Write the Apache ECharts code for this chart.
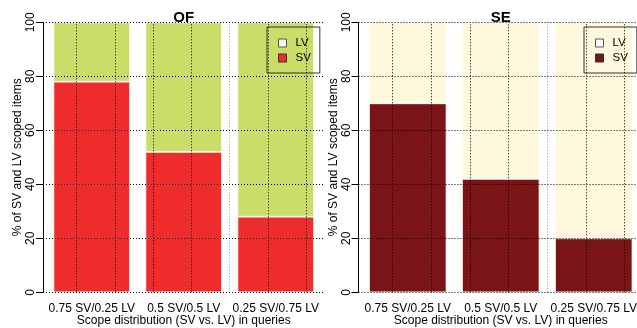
<!DOCTYPE html>
<html>
<head>
<meta charset="utf-8">
<script src="https://cdn.jsdelivr.net/npm/echarts@6/dist/echarts.min.js"></script>
<style>html,body{margin:0;padding:0;background:#fff;}#c{width:637px;height:328px;}</style>
</head>
<body>
<div id="c"></div>
<script>
// ---- data ----
const categories = ['0.75 SV/0.25 LV', '0.5 SV/0.5 LV', '0.25 SV/0.75 LV'];
const ofSV = [78, 52, 28];
const ofLV = [22, 48, 72];
const seSV = [70, 42, 20];
const seLV = [30, 58, 80];
const yTicks = [0, 20, 40, 60, 80, 100];
const xGridTicks = [0.5, 1, 1.5, 2, 2.5, 3, 3.5]; // barplot x-units (bar width = 1, space = 0.2)
const panelTitles = ['OF', 'SE'];
const xName = 'Scope distribution (SV vs. LV) in queries';
const yName = '% of SV and LV scoped items';

const FONT = 'Liberation Sans, Arial, Helvetica, sans-serif';
const chart = echarts.init(document.getElementById('c'), null, {renderer: 'canvas'});

// panel geometry
const TOP = 22.3, H = 270;
const panels = [
  {aLeft: 43, aWidth: 281.5, colors: {SV: '#ee2c2c', LV: '#cbdc68', lvIcon: '#f3f5ea'}, sv: ofSV, lv: ofLV, legendLeft: 267},
  {aLeft: 358.5, aWidth: 284.5, colors: {SV: '#7a1416', LV: '#fff8dc', lvIcon: '#ffffff'}, sv: seSV, lv: seLV, legendLeft: 584}
];
const USR_MIN = 0.064, USR_MAX = 3.736, BAND_MIN = 0.1, BAND_MAX = 3.7;

const grid = [], xAxis = [], yAxis = [], series = [], title = [], legend = [];
panels.forEach((p, i) => {
  const unit = p.aWidth / (USR_MAX - USR_MIN);
  const bLeft = p.aLeft + (BAND_MIN - USR_MIN) * unit;
  const bWidth = (BAND_MAX - BAND_MIN) * unit;
  grid.push({left: p.aLeft, top: TOP, width: p.aWidth, height: H, containLabel: false, outerBoundsMode: 'none'});
  grid.push({left: bLeft, top: TOP, width: bWidth, height: H, containLabel: false, outerBoundsMode: 'none'});
  const ga = i * 2, gb = i * 2 + 1;
  xAxis.push({type: 'value', gridIndex: ga, min: USR_MIN, max: USR_MAX, show: false});
  xAxis.push({
    type: 'category', gridIndex: gb, data: categories,
    axisLine: {show: false}, axisTick: {show: false}, splitLine: {show: false},
    axisLabel: {fontFamily: FONT, fontSize: 12, color: '#000', margin: 10, interval: 0},
    name: xName, nameLocation: 'middle', nameGap: 22, nameMoveOverlap: false,
    nameTextStyle: {fontFamily: FONT, fontSize: 12, color: '#000'}
  });
  yAxis.push({
    type: 'value', gridIndex: ga, min: 0, max: 100, interval: 20,
    axisLine: {show: true, lineStyle: {color: '#000', width: 1}},
    axisTick: {show: true, length: 7, inside: false, lineStyle: {color: '#000'}},
    axisLabel: {fontFamily: FONT, fontSize: 12, color: '#000', rotate: 90, margin: 6},
    splitLine: {show: false},
    name: yName, nameLocation: 'middle', nameGap: 19, nameRotate: 90, nameMoveOverlap: false,
    nameTextStyle: {fontFamily: FONT, fontSize: 12, color: '#000'}
  });
  yAxis.push({type: 'value', gridIndex: gb, min: 0, max: 100, show: false});

  const key = 'p' + i;
  series.push({
    name: 'SV', type: 'bar', xAxisIndex: gb, yAxisIndex: gb, stack: key, data: p.sv,
    barWidth: '83.333%', itemStyle: {color: p.colors.SV, borderColor: '#fff', borderWidth: 0.8},
    animation: false, silent: true, z: 2
  });
  series.push({
    name: 'LV', type: 'bar', xAxisIndex: gb, yAxisIndex: gb, stack: key, data: p.lv,
    barWidth: '83.333%', itemStyle: {color: p.colors.LV, borderColor: '#fff', borderWidth: 0.8},
    animation: false, silent: true, z: 2
  });
  series.push({
    type: 'line', xAxisIndex: ga, yAxisIndex: ga, data: [], silent: true, animation: false, z: 10,
    markLine: {
      silent: true, animation: false, symbol: ['none', 'none'], label: {show: false},
      lineStyle: {color: '#000', type: [1, 2], width: 1},
      emphasis: {disabled: true},
      data: xGridTicks.map(v => (v === 2.5 ? {xAxis: v, lineStyle: {color: '#9a9a9a'}} : {xAxis: v}))
        .concat(yTicks.map(v => ({yAxis: v})))
    }
  });
  title.push({
    text: panelTitles[i], left: p.aLeft + p.aWidth / 2, top: 10, textAlign: 'center', padding: 0,
    textStyle: {fontFamily: FONT, fontSize: 15, fontWeight: 'bold', color: '#000'}
  });
  legend.push({
    orient: 'vertical', left: p.legendLeft, top: 27, padding: [10, 9, 9, 11],
    borderColor: '#333', borderWidth: 1, backgroundColor: 'transparent',
    itemWidth: 8, itemHeight: 8, itemGap: 3, icon: 'rect', selectedMode: false,
    textStyle: {fontFamily: FONT, fontSize: 11.5, color: '#000', padding: [0, 0, 0, 4]},
    data: [
      {name: 'LV', itemStyle: {color: p.colors.lvIcon, borderColor: '#555', borderWidth: 1}},
      {name: 'SV', itemStyle: {color: p.colors.SV, borderColor: '#333', borderWidth: 1}}
    ]
  });
});

chart.setOption({
  backgroundColor: '#fff', animation: false,
  title, legend, grid, xAxis, yAxis, series
});
</script>
</body>
</html>
